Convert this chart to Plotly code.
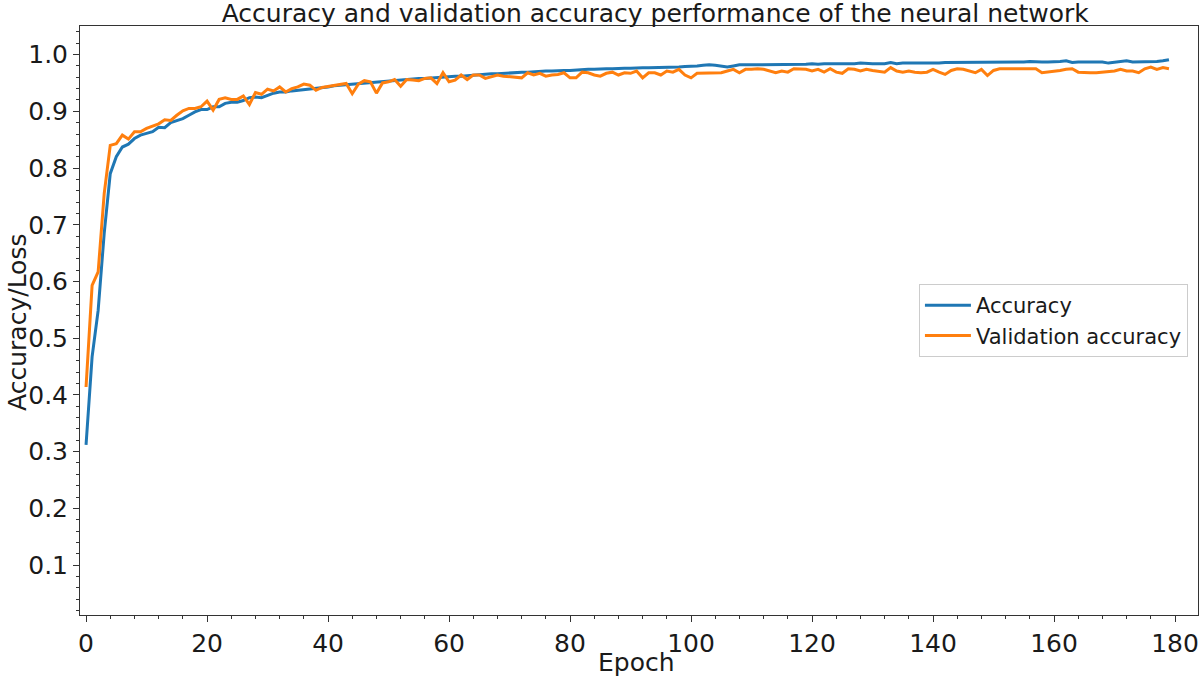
import plotly.graph_objects as go

epochs = list(range(180))

accuracy = [
    0.312, 0.467, 0.549, 0.685, 0.790, 0.820, 0.837, 0.842, 0.852, 0.858,
    0.861, 0.864, 0.872, 0.871, 0.880, 0.884, 0.887, 0.893, 0.899, 0.903,
    0.903, 0.908, 0.908, 0.914, 0.916, 0.916, 0.919, 0.924, 0.925, 0.924,
    0.928, 0.932, 0.934, 0.934, 0.936, 0.937, 0.938, 0.940, 0.941, 0.942,
    0.943, 0.945, 0.946, 0.947, 0.948, 0.949, 0.950, 0.951, 0.952, 0.953,
    0.954, 0.955, 0.955, 0.956, 0.957, 0.958, 0.958, 0.959, 0.960, 0.960,
    0.961, 0.962, 0.962, 0.963, 0.964, 0.964, 0.965, 0.966, 0.966, 0.967,
    0.967, 0.968, 0.969, 0.969, 0.970, 0.970, 0.971, 0.971, 0.972, 0.972,
    0.972, 0.973, 0.973, 0.974, 0.974, 0.975, 0.975, 0.975, 0.976, 0.976,
    0.976, 0.977, 0.977, 0.977, 0.977, 0.978, 0.978, 0.978, 0.978, 0.979,
    0.979, 0.980, 0.981, 0.982, 0.981, 0.979, 0.978, 0.980, 0.982, 0.982,
    0.982, 0.982, 0.982, 0.983, 0.982, 0.983, 0.983, 0.983, 0.983, 0.983,
    0.984, 0.983, 0.984, 0.984, 0.984, 0.983, 0.984, 0.984, 0.985, 0.984,
    0.984, 0.984, 0.984, 0.986, 0.984, 0.985, 0.985, 0.985, 0.985, 0.985,
    0.984, 0.985, 0.986, 0.986, 0.987, 0.986, 0.986, 0.986, 0.986, 0.987,
    0.986, 0.986, 0.986, 0.986, 0.986, 0.987, 0.988, 0.987, 0.987, 0.987,
    0.987, 0.988, 0.989, 0.986, 0.987, 0.987, 0.988, 0.988, 0.987, 0.985,
    0.986, 0.988, 0.989, 0.987, 0.987, 0.987, 0.988, 0.988, 0.989, 0.991,
]

val_accuracy = [
    0.414, 0.593, 0.617, 0.755, 0.840, 0.843, 0.858, 0.851, 0.864, 0.864,
    0.870, 0.874, 0.878, 0.885, 0.884, 0.893, 0.901, 0.905, 0.905, 0.908,
    0.918, 0.902, 0.921, 0.924, 0.921, 0.921, 0.927, 0.912, 0.933, 0.930,
    0.939, 0.936, 0.943, 0.934, 0.940, 0.943, 0.948, 0.946, 0.937, 0.942,
    0.944, 0.946, 0.948, 0.949, 0.931, 0.948, 0.954, 0.952, 0.932, 0.950,
    0.952, 0.956, 0.944, 0.956, 0.955, 0.954, 0.958, 0.959, 0.949, 0.968,
    0.952, 0.955, 0.964, 0.956, 0.964, 0.964, 0.958, 0.961, 0.964, 0.962,
    0.961, 0.961, 0.959, 0.968, 0.964, 0.967, 0.962, 0.964, 0.965, 0.968,
    0.959, 0.959, 0.969, 0.968, 0.964, 0.962, 0.967, 0.969, 0.964, 0.968,
    0.967, 0.971, 0.959, 0.968, 0.968, 0.964, 0.971, 0.969, 0.974, 0.964,
    0.959, 0.967, 0.967, 0.967, 0.967, 0.968, 0.971, 0.974, 0.968, 0.974,
    0.974, 0.975, 0.974, 0.971, 0.968, 0.971, 0.969, 0.975, 0.975, 0.974,
    0.971, 0.974, 0.969, 0.975, 0.969, 0.967, 0.975, 0.974, 0.971, 0.974,
    0.972, 0.971, 0.969, 0.977, 0.971, 0.969, 0.971, 0.969, 0.968, 0.969,
    0.974, 0.969, 0.965, 0.972, 0.975, 0.974, 0.971, 0.968, 0.974, 0.963,
    0.972, 0.975, 0.975, 0.975, 0.974, 0.974, 0.974, 0.975, 0.968, 0.969,
    0.971, 0.972, 0.974, 0.975, 0.969, 0.968, 0.968, 0.968, 0.969, 0.971,
    0.971, 0.974, 0.971, 0.971, 0.968, 0.975, 0.978, 0.974, 0.977, 0.975,
]

x_ticks = [0, 20, 40, 60, 80, 100, 120, 140, 160, 180]
y_ticks = [0.1, 0.2, 0.3, 0.4, 0.5, 0.6, 0.7, 0.8, 0.9, 1.0]

FONT = "DejaVu Sans"
TXT = "#1a1a1a"

fig = go.Figure()
fig.add_trace(go.Scatter(x=epochs, y=accuracy, mode="lines", name="Accuracy",
                         line=dict(color="#1f77b4", width=3)))
fig.add_trace(go.Scatter(x=epochs, y=val_accuracy, mode="lines", name="Validation accuracy",
                         line=dict(color="#ff7f0e", width=3)))

axis_common = dict(showline=True, linecolor="#333333", linewidth=1, mirror=True,
                   ticks="outside", ticklen=6, tickwidth=1, tickcolor="#333333",
                   showgrid=False, zeroline=False,
                   tickfont=dict(family=FONT, size=25, color=TXT))

fig.update_layout(
    width=1200, height=679,
    paper_bgcolor="white", plot_bgcolor="white",
    margin=dict(l=80, r=2, t=26, b=64),
    font=dict(family=FONT, color=TXT),
    title=dict(text="Accuracy and validation accuracy performance of the neural network",
               x=0.546, xanchor="center", y=0.994, yanchor="top", pad=dict(t=0),
               font=dict(family=FONT, size=25, color=TXT)),
    xaxis=dict(range=[-1, 183.8], tickmode="array", tickvals=x_ticks,
               ticktext=[str(v) for v in x_ticks],
               minor=dict(ticks="outside", ticklen=3, dtick=4, tick0=0, tickcolor="#333333"),
               **axis_common),
    yaxis=dict(range=[0.012, 1.0504], tickmode="array", tickvals=y_ticks,
               ticktext=[f"{v:.1f}" for v in y_ticks],
               minor=dict(ticks="outside", ticklen=3, dtick=0.02, tick0=0, tickcolor="#333333"),
               **axis_common),
    legend=dict(x=0.991, xanchor="right", y=0.5, yanchor="middle",
                bgcolor="rgba(255,255,255,0.8)", bordercolor="#cccccc", borderwidth=1,
                itemwidth=46,
                font=dict(family=FONT, size=21, color=TXT)),
    showlegend=True,
    annotations=[
        dict(text="Epoch", xref="paper", yref="paper", x=0.498, y=-0.0798,
             xanchor="center", yanchor="middle", showarrow=False,
             font=dict(family=FONT, size=25, color=TXT)),
        dict(text="Accuracy/Loss", xref="paper", yref="paper", x=-0.0555, y=0.4975,
             xanchor="center", yanchor="middle", showarrow=False, textangle=-90,
             font=dict(family=FONT, size=25, color=TXT)),
    ],
)

fig.write_html("out.html", config={"displayModeBar": False},
               post_script="document.body.style.margin='0';")
